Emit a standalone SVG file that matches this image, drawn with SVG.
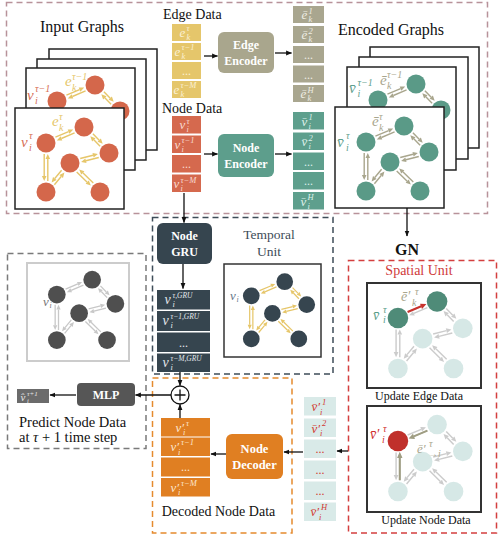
<svg xmlns="http://www.w3.org/2000/svg" width="500" height="539" viewBox="0 0 500 539">
<style>
text{font-family:"Liberation Serif","Times New Roman",serif}
.lbl{font-size:14px;fill:#111}
.bx{font-size:12px;font-weight:bold;fill:#fff;text-anchor:middle}
.m{font-style:italic;font-size:13px}
.s{font-size:8.5px}
.g{font-size:15px;font-style:italic}
.gs{font-size:10px}
.fr{fill:#fff;stroke:#222;stroke-width:1.5}
.dsh{fill:none;stroke-width:1.5;stroke-dasharray:6 4}
.ar{stroke:#111;stroke-width:1.3;fill:none;marker-end:url(#ah)}
.dots{font-size:12px;text-anchor:middle}
</style>
<defs>
<marker id="ah" viewBox="0 0 10 10" refX="9" refY="5" markerWidth="6" markerHeight="6" markerUnits="userSpaceOnUse" orient="auto"><path d="M0,1L10,5L0,9z" fill="#111"/></marker>
<g id="ge" stroke-width="1.4">
<path fill="none" d="M40.4 29.1L53.6 23.6M59.6 24.9L46.4 30.5M77.9 25.7L84.2 32.2M85.1 38.3L78.8 31.8M65.2 50.5L78.1 47.2M83.8 49.5L70.9 52.8M46.6 62.3L39.8 70.5M39.4 76.7L46.2 68.5M61.7 63.9L72.2 74.2M78.3 75.1L67.8 64.8M29.2 46V68M32.8 73V51"/>
<path stroke="none" d="M58.2 21.6L54.4 25.7L52.7 21.4ZM41.8 32.4L47.3 32.6L45.6 28.3ZM87.7 35.8L82.6 33.8L85.9 30.6ZM75.3 28.2L77.1 33.4L80.5 30.2ZM82.9 46L77.5 45L78.6 49.5ZM66.1 54L70.4 50.5L71.5 55ZM36.6 74.4L38 69.1L41.6 72ZM49.4 64.6L44.4 67L48 69.9ZM75.8 77.6L70.6 75.8L73.8 72.5ZM64.2 61.4L66.2 66.5L69.4 63.2ZM29.2 73L26.9 68L31.5 68ZM32.8 46L30.5 51L35.1 51Z"/>
</g>
<g id="gn"><circle cx="31" cy="35" r="9.5"/><circle cx="69" cy="19" r="9.5"/><circle cx="94" cy="45" r="9.5"/><circle cx="55" cy="55" r="9.5"/><circle cx="31" cy="84" r="9.5"/><circle cx="85" cy="84" r="9.5"/></g>
</defs>

<g id="frames-dashed">
<rect class="dsh" x="6.5" y="2.5" width="481" height="211" stroke="#B8929A"/>
<rect class="dsh" x="7.5" y="253.5" width="138.5" height="195" stroke="#7A7A7A"/>
<rect class="dsh" x="152.5" y="217.5" width="180.5" height="156.5" stroke="#3E4C58"/>
<rect class="dsh" x="152.5" y="378" width="139.5" height="155" stroke="#E58A2E"/>
<rect class="dsh" x="348.5" y="260.5" width="148" height="272.5" stroke="#D43F3F"/>
</g>

<g id="input-graphs">
<text class="lbl" x="82" y="32" text-anchor="middle" style="font-size:16px">Input Graphs</text>
<rect class="fr" x="49" y="49" width="108" height="101"/>
<rect class="fr" x="37" y="59" width="109" height="101"/>
<rect class="fr" x="26" y="68" width="109" height="102"/>
<g transform="translate(26,66)"><use href="#ge" stroke="#E6C66A" fill="#E6C66A"/><use href="#gn" fill="#D4674B"/></g>
<text class="g" x="27" y="100" fill="#D66E55">v<tspan class="gs" x="35" y="92">τ−1</tspan><tspan class="gs" x="35" y="104">i</tspan></text>
<text class="g" x="65" y="86" fill="#E6C66A">e<tspan class="gs" x="72" y="80">τ−1</tspan><tspan class="gs" x="72" y="91">k</tspan></text>
<rect class="fr" x="15" y="108" width="109" height="101"/>
<g transform="translate(15,108)"><use href="#ge" stroke="#E6C66A" fill="#E6C66A"/><use href="#gn" fill="#D4674B"/></g>
<text class="g" x="21" y="147" fill="#D66E55">v<tspan class="gs" x="29" y="139">τ</tspan><tspan class="gs" x="29" y="151">i</tspan></text>
<text class="g" x="52" y="126" fill="#E6C66A">e<tspan class="gs" x="59" y="120">τ</tspan><tspan class="gs" x="59" y="131">k</tspan></text>
</g>

<g id="edge-data">
<text class="lbl" x="163" y="19">Edge Data</text>
<g fill="#E5C66B"><rect x="172" y="24" width="29" height="17"/><rect x="172" y="43" width="29" height="17"/><rect x="172" y="62" width="29" height="17"/><rect x="172" y="81" width="29" height="17"/></g>
<g fill="#FBF0D2">
<text class="m" x="179.5" y="36.5">e<tspan class="s" x="186.5" y="31">τ</tspan><tspan class="s" x="186.5" y="39.5">k</tspan></text>
<text class="m" x="174.5" y="55.5">e<tspan class="s" x="181.5" y="50">τ−1</tspan><tspan class="s" x="181.5" y="58.5">k</tspan></text>
<text class="dots" x="186.5" y="75">...</text>
<text class="m" x="173.5" y="93.5">e<tspan class="s" x="180.5" y="88">τ−M</tspan><tspan class="s" x="180.5" y="96.5">k</tspan></text>
</g>
</g>

<g id="edge-encoder">
<rect x="218" y="32" width="56" height="41" rx="6" fill="#A9A68D"/>
<text class="bx" x="246" y="49">Edge</text><text class="bx" x="246" y="65">Encoder</text>
</g>

<g id="encoded-edges">
<g fill="#A9A68F"><rect x="293" y="6" width="31" height="17"/><rect x="293" y="26" width="31" height="17"/><rect x="293" y="46" width="31" height="17"/><rect x="293" y="65.5" width="31" height="17"/><rect x="293" y="85" width="31" height="17"/></g>
<g fill="#EEEDE3">
<text class="m" x="301.5" y="19">ē<tspan class="s" x="308.5" y="13.5">1</tspan><tspan class="s" x="308.5" y="22">k</tspan></text>
<text class="m" x="301.5" y="39">ē<tspan class="s" x="308.5" y="33.5">2</tspan><tspan class="s" x="308.5" y="42">k</tspan></text>
<text class="dots" x="308.5" y="59">...</text>
<text class="dots" x="308.5" y="78.5">...</text>
<text class="m" x="300.5" y="98">ē<tspan class="s" x="307.5" y="92.5">H</tspan><tspan class="s" x="307.5" y="101">k</tspan></text>
</g>
</g>

<g id="node-data">
<text class="lbl" x="162" y="113">Node Data</text>
<g fill="#D5694E"><rect x="172" y="116" width="29" height="17.5"/><rect x="172" y="135.5" width="29" height="17.5"/><rect x="172" y="155" width="29" height="17.5"/><rect x="172" y="174.5" width="29" height="17.5"/></g>
<g fill="#F8DAD0">
<text class="m" x="179.5" y="129">v<tspan class="s" x="186.5" y="123.5">τ</tspan><tspan class="s" x="186.5" y="132">i</tspan></text>
<text class="m" x="174.5" y="148.5">v<tspan class="s" x="181.5" y="143">τ−1</tspan><tspan class="s" x="181.5" y="151.5">i</tspan></text>
<text class="dots" x="186.5" y="168">...</text>
<text class="m" x="173.5" y="188">v<tspan class="s" x="180.5" y="182.5">τ−M</tspan><tspan class="s" x="180.5" y="191">i</tspan></text>
</g>
</g>

<g id="node-encoder">
<rect x="218" y="134" width="56" height="43" rx="6" fill="#5D9E8C"/>
<text class="bx" x="246" y="152">Node</text><text class="bx" x="246" y="168">Encoder</text>
</g>

<g id="encoded-nodes">
<g fill="#5E9F8D"><rect x="293" y="112" width="31" height="17.5"/><rect x="293" y="132.5" width="31" height="17.5"/><rect x="293" y="152.5" width="31" height="17.5"/><rect x="293" y="172" width="31" height="17.5"/><rect x="293" y="192" width="31" height="17.5"/></g>
<g fill="#DDF0EA">
<text class="m" x="301.5" y="125.5">v̄<tspan class="s" x="308.5" y="120">1</tspan><tspan class="s" x="308.5" y="128.5">i</tspan></text>
<text class="m" x="301.5" y="146">v̄<tspan class="s" x="308.5" y="140.5">2</tspan><tspan class="s" x="308.5" y="149">i</tspan></text>
<text class="dots" x="308.5" y="165.5">...</text>
<text class="dots" x="308.5" y="185">...</text>
<text class="m" x="300.5" y="205.5">v̄<tspan class="s" x="307.5" y="200">H</tspan><tspan class="s" x="307.5" y="208.5">i</tspan></text>
</g>
</g>

<g id="encoded-graphs">
<text class="lbl" x="391" y="35" text-anchor="middle" style="font-size:16px">Encoded Graphs</text>
<rect class="fr" x="370" y="47" width="109" height="101"/>
<rect class="fr" x="359" y="57" width="109" height="102"/>
<rect class="fr" x="347" y="67" width="109" height="103"/>
<g transform="translate(347,65)"><use href="#ge" stroke="#A9A68D" fill="#A9A68D"/><use href="#gn" fill="#5A9A87"/></g>
<text class="g" x="349" y="93" fill="#5FA08E">v̄<tspan class="gs" x="357.5" y="86">τ−1</tspan><tspan class="gs" x="357.5" y="97">i</tspan></text>
<text class="g" x="380" y="85" fill="#A9A68D">ē<tspan class="gs" x="387" y="78">τ−1</tspan><tspan class="gs" x="387" y="89">k</tspan></text>
<rect class="fr" x="335" y="107" width="109" height="101"/>
<g transform="translate(335,107)"><use href="#ge" stroke="#A9A68D" fill="#A9A68D"/><use href="#gn" fill="#5A9A87"/></g>
<text class="g" x="337" y="147" fill="#5FA08E">v̄<tspan class="gs" x="346" y="139">τ</tspan><tspan class="gs" x="346" y="151">i</tspan></text>
<text class="g" x="372" y="126" fill="#A9A68D">ē<tspan class="gs" x="379" y="120">τ</tspan><tspan class="gs" x="379" y="131">k</tspan></text>
</g>

<g id="temporal-unit">
<text x="269" y="239" text-anchor="middle" fill="#3E4C58" style="font-size:13.5px">Temporal</text>
<text x="269" y="256" text-anchor="middle" fill="#3E4C58" style="font-size:13.5px">Unit</text>
<rect x="224" y="264" width="97" height="93" fill="#fff" stroke="#333" stroke-width="1.5"/>
<g transform="translate(224,265) scale(0.88)"><use href="#ge" stroke="#E6C66A" fill="#E6C66A"/><use href="#gn" fill="#36454F"/></g>
<text class="g" x="230" y="300" fill="#66788A" style="font-size:13px">v<tspan x="236.5" y="302" style="font-size:8px">i</tspan></text>
</g>

<g id="node-gru">
<rect x="157" y="223" width="55" height="41" rx="6" fill="#36454F"/>
<text class="bx" x="184.5" y="240">Node</text><text class="bx" x="184.5" y="256">GRU</text>
</g>

<g id="gru-output">
<g fill="#36454F"><rect x="157" y="290" width="53" height="19.5"/><rect x="157" y="311" width="53" height="20"/><rect x="157" y="332.5" width="53" height="19.5"/><rect x="157" y="353.5" width="53" height="18.5"/></g>
<g fill="#E3E8EC">
<text class="m" x="164.5" y="304" style="font-size:14px">v<tspan class="s" x="172.5" y="297.5" style="font-size:7.5px">τ,GRU</tspan><tspan class="s" x="172.5" y="307">i</tspan></text>
<text class="m" x="162.5" y="325" style="font-size:14px">v<tspan class="s" x="170.5" y="318.5" style="font-size:7.5px">τ−1,GRU</tspan><tspan class="s" x="170.5" y="328">i</tspan></text>
<text class="dots" x="183.5" y="347">...</text>
<text class="m" x="162.5" y="367" style="font-size:14px">v<tspan class="s" x="170.5" y="360.5" style="font-size:7.5px">τ−M,GRU</tspan><tspan class="s" x="170.5" y="370">i</tspan></text>
</g>
</g>

<g id="predict">
<rect x="27" y="263" width="102" height="98" fill="#fff" stroke="#CCCCCC" stroke-width="2"/>
<g transform="translate(28,262) scale(0.93)"><use href="#ge" stroke="#C8C8C8" fill="#C8C8C8"/><use href="#gn" fill="#4F4F4F"/></g>
<text class="g" x="43" y="306" fill="#777" style="font-size:13px">v<tspan x="49.5" y="308" style="font-size:8px">i</tspan></text>
<text class="lbl" x="19" y="427" style="font-size:14.5px">Predict Node Data</text>
<text class="lbl" x="19" y="442" style="font-size:14.5px">at <tspan font-style="italic">τ</tspan> + 1  time step</text>
</g>

<g id="mlp">
<rect x="77" y="383" width="58" height="23" rx="4" fill="#565656"/>
<text class="bx" x="106" y="399">MLP</text>
</g>

<g id="output">
<rect x="17" y="389" width="32" height="14" fill="#6B6B6B"/>
<text class="m" x="20.5" y="400.5" fill="#E6E6E6" style="font-size:11px">v̂<tspan x="27" y="395.5" style="font-size:7px">τ+1</tspan><tspan x="27" y="402.5" style="font-size:6.5px">i</tspan></text>
</g>

<g id="sum">
<circle cx="180" cy="395" r="9" fill="#fff" stroke="#111" stroke-width="1.3"/>
<path d="M174.5 395h11M180 389.5v11" stroke="#111" stroke-width="1.3"/>
</g>

<g id="decoded">
<g fill="#E07F22"><rect x="161" y="418" width="49" height="18.5"/><rect x="161" y="437.5" width="49" height="18.5"/><rect x="161" y="457.5" width="49" height="19"/><rect x="161" y="478" width="49" height="18.5"/></g>
<g fill="#FCE4CC">
<text class="m" x="175.5" y="431.5">v′<tspan class="s" x="186" y="425.5">τ</tspan><tspan class="s" x="183" y="435">i</tspan></text>
<text class="m" x="170.5" y="451">v′<tspan class="s" x="181" y="445">τ−1</tspan><tspan class="s" x="178" y="454.5">i</tspan></text>
<text class="dots" x="185.5" y="471">...</text>
<text class="m" x="170.5" y="491.5">v′<tspan class="s" x="181" y="485.5">τ−M</tspan><tspan class="s" x="178" y="495">i</tspan></text>
</g>
<text class="lbl" x="218.5" y="516" text-anchor="middle">Decoded Node Data</text>
</g>

<g id="node-decoder">
<rect x="226" y="434" width="57" height="45" rx="6" fill="#E07F22"/>
<text class="bx" x="254.5" y="453" style="font-size:12.5px">Node</text><text class="bx" x="254.5" y="469" style="font-size:12.5px">Decoder</text>
</g>

<g id="updated-nodes">
<g fill="#D9EAE8"><rect x="304" y="397" width="32" height="18.5"/><rect x="304" y="418.5" width="32" height="18.5"/><rect x="304" y="439.5" width="32" height="18.5"/><rect x="304" y="460.5" width="32" height="18.5"/><rect x="304" y="481.5" width="32" height="18.5"/><rect x="304" y="502.5" width="32" height="18.5"/></g>
<g fill="#D23A32">
<text class="m" x="311.5" y="411">v̄′<tspan class="s" x="322" y="404.5">1</tspan><tspan class="s" x="320" y="414.5">i</tspan></text>
<text class="m" x="311.5" y="432.5">v̄′<tspan class="s" x="322" y="426">2</tspan><tspan class="s" x="320" y="436">i</tspan></text>
<text class="dots" x="320" y="452.5">...</text>
<text class="dots" x="320" y="473.5">...</text>
<text class="dots" x="320" y="494.5">...</text>
<text class="m" x="310.5" y="516">v̄′<tspan class="s" x="321" y="509.5">H</tspan><tspan class="s" x="319" y="519.5">i</tspan></text>
</g>
</g>

<g id="gn-label">
<text x="407" y="255" text-anchor="middle" font-weight="bold" style="font-size:16px" fill="#111">GN</text>
</g>

<g id="spatial-unit">
<text x="419" y="275" text-anchor="middle" fill="#D03A3A" style="font-size:14px">Spatial Unit</text>
<rect x="367" y="283" width="114" height="105" fill="#fff" stroke="#333" stroke-width="2"/>
<g transform="translate(366,282) scale(1.03)">
<use href="#ge" stroke="#CCCCCC" fill="#CCCCCC"/><use href="#gn" fill="#D6E8E6"/>
<path d="M40.4 29.1L53.6 23.6" stroke="#C8322C" stroke-width="2"/>
<path d="M58.6 21.4L54.4 26.2L52.5 21.2Z" fill="#C8322C"/>
<circle cx="31" cy="35" r="10" fill="#4F8B78"/><circle cx="69" cy="19" r="10" fill="#4F8B78"/>
</g>
<text class="g" x="373" y="320" fill="#5A9E8A" style="font-size:14px">v̄<tspan class="gs" x="383" y="313">τ</tspan><tspan class="gs" x="383" y="323">i</tspan></text>
<text class="g" x="401" y="301" fill="#A9A68D" style="font-size:14px">ē′<tspan class="gs" x="415" y="295">τ</tspan><tspan class="gs" x="412" y="305.5">k</tspan></text>
<text x="419" y="400" text-anchor="middle" fill="#111" style="font-size:12px">Update Edge Data</text>
<rect x="367" y="406" width="114" height="106" fill="#fff" stroke="#333" stroke-width="2"/>
<g transform="translate(366,405) scale(1.03)">
<use href="#ge" stroke="#CCCCCC" fill="#CCCCCC"/><use href="#gn" fill="#D6E8E6"/>
<path d="M59.6 24.9L46.4 30.5M32.8 73V51" stroke="#9F9D82" stroke-width="2" fill="none"/>
<path d="M41.4 32.6L47.5 33L45.6 28ZM32.8 45.5L30.2 51.5L35.4 51.5Z" fill="#9F9D82"/>
<circle cx="31" cy="35" r="10" fill="#C0302B"/>
</g>
<text class="g" x="370" y="439" fill="#D03030" style="font-size:14px">v̄′<tspan class="gs" x="383" y="432">τ</tspan><tspan class="gs" x="382" y="443">i</tspan></text>
<text class="g" x="417" y="453" fill="#A9A68D" style="font-size:13px">ē′<tspan class="gs" x="429" y="447">τ</tspan><tspan class="gs" x="428" y="457">→i</tspan></text>
<text x="426" y="524" text-anchor="middle" fill="#111" style="font-size:12px">Update Node Data</text>
</g>

<g id="connectors">
<path class="ar" d="M204 56H217.5"/>
<path class="ar" d="M275 53H291.5"/>
<path class="ar" d="M204 154H217.5"/>
<path class="ar" d="M275 154H291.5"/>
<path class="ar" d="M184 193V222.5"/>
<path class="ar" d="M407 208V236"/>
<path class="ar" d="M183 264V288.5"/>
<path class="ar" d="M180 372V385.5"/>
<path class="ar" d="M180 418V404.5"/>
<path class="ar" d="M171 395H135.5"/>
<path class="ar" d="M76 395H50"/>
<path class="ar" d="M348 451H337"/>
<path class="ar" d="M303 452H284"/>
<path class="ar" d="M226 454H211"/>
</g>
</svg>
